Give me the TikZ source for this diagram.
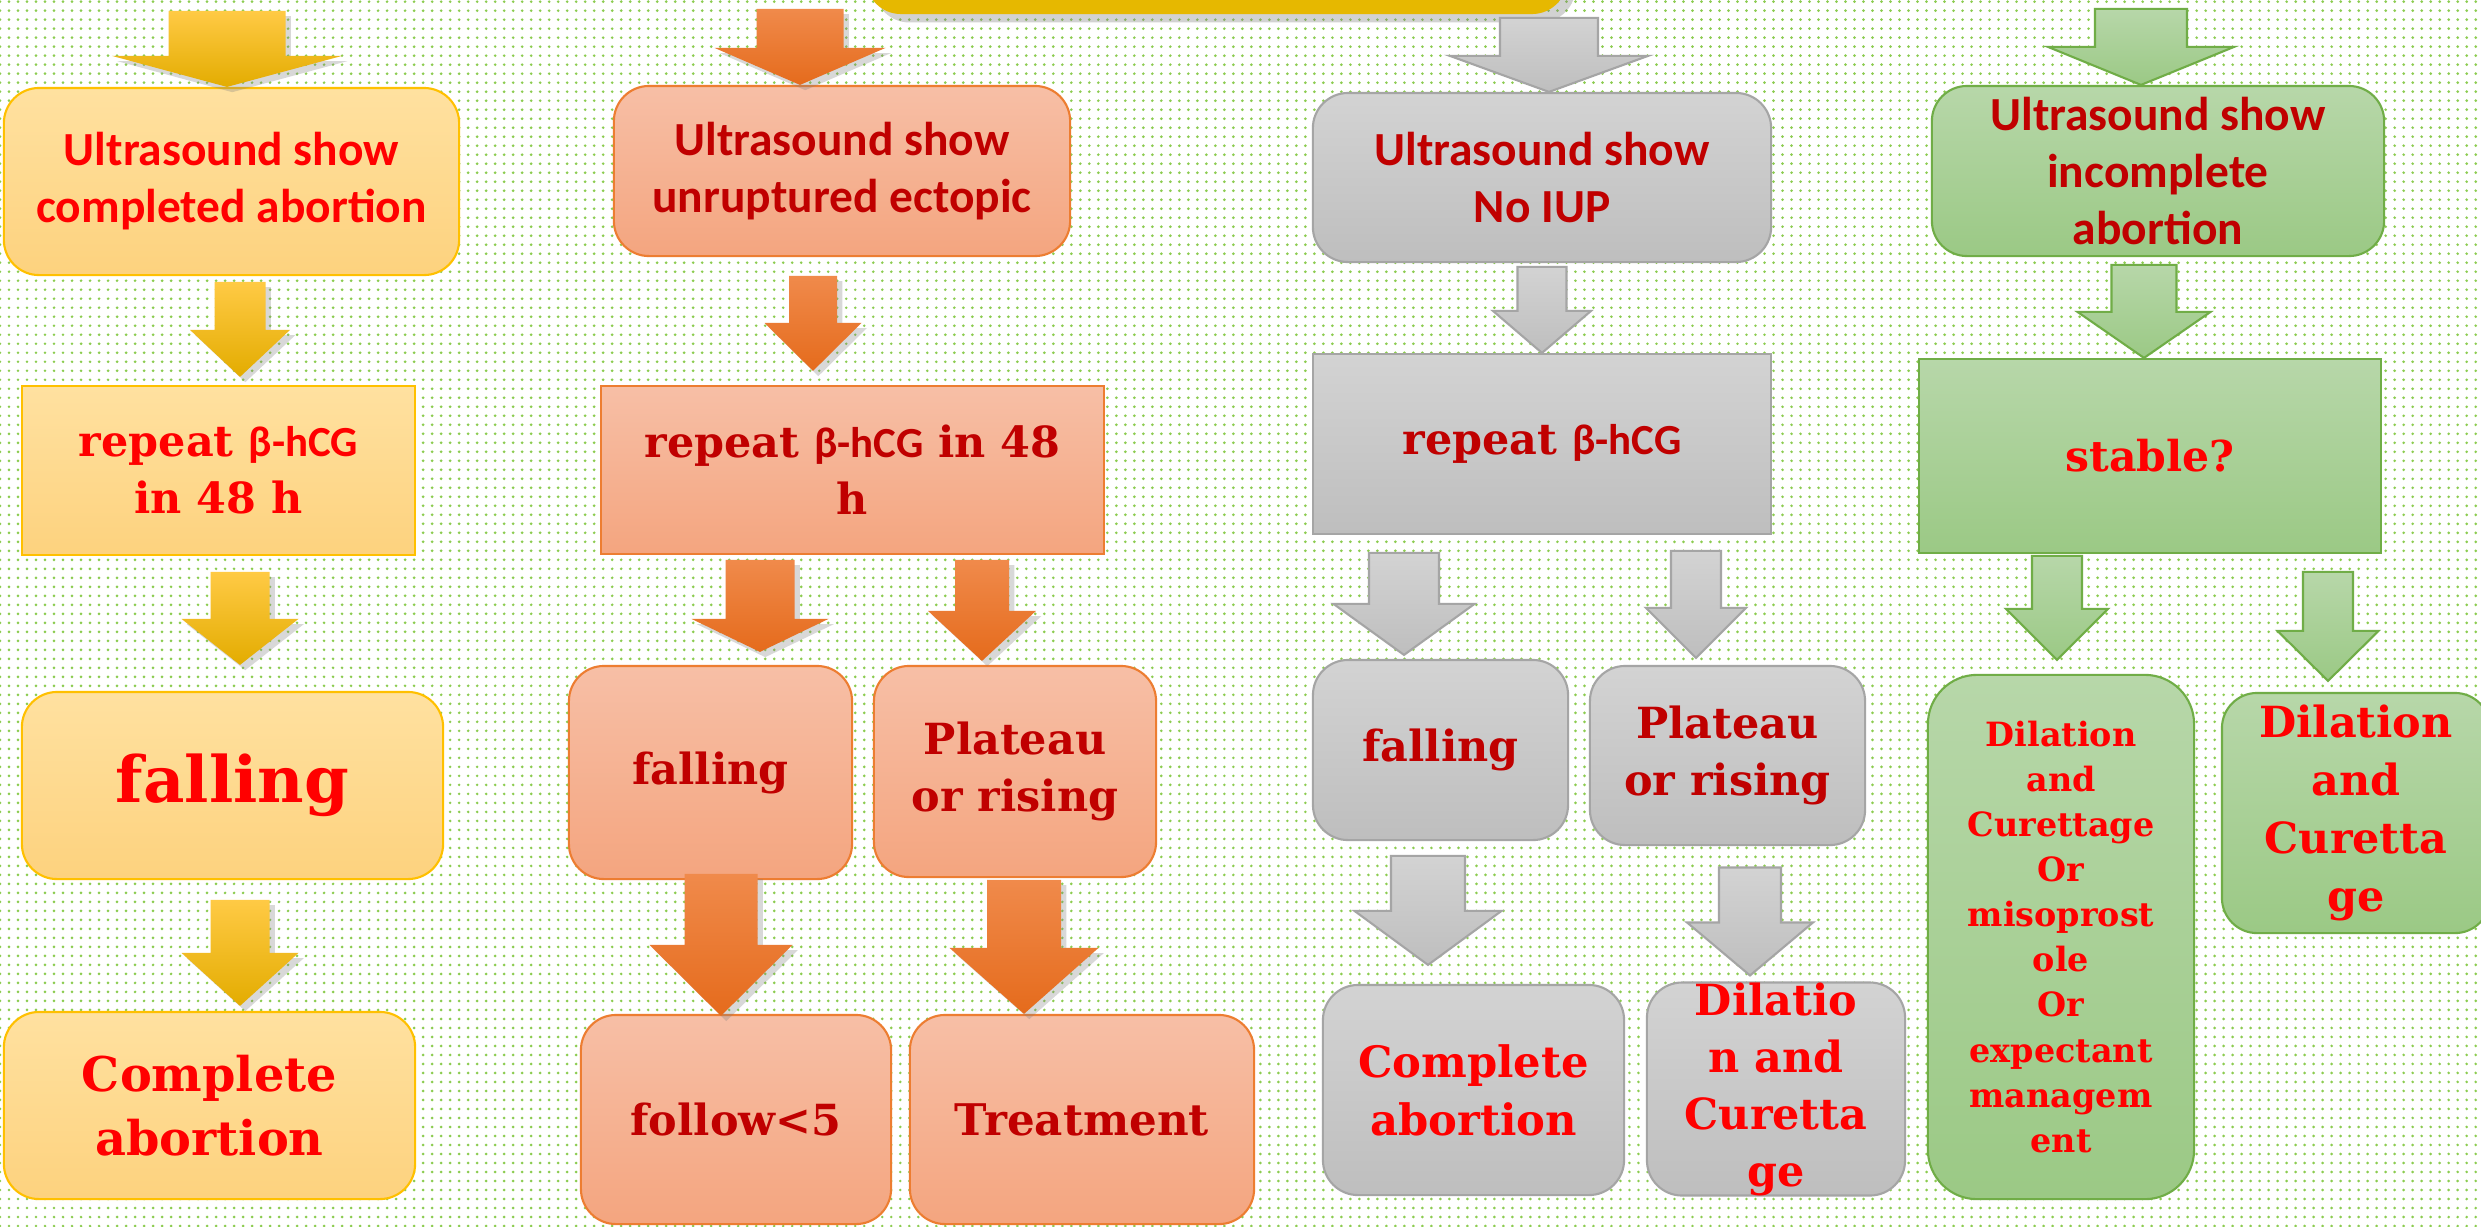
\documentclass[tikz,border=0pt]{standalone}
\usepackage{fontspec}
\setmainfont{Carlito}
\newfontfamily\slab{DejaVu Serif}
\usetikzlibrary{calc,shadows,patterns.meta}

\definecolor{dotgreen}{RGB}{140,204,80}
\definecolor{topgold}{HTML}{E6B800}
\definecolor{goldedge}{HTML}{FFC000}
\definecolor{goldtop}{HTML}{FFE1A0}
\definecolor{goldbot}{HTML}{FDD27E}
\definecolor{goldarrtop}{HTML}{FFCA45}
\definecolor{goldarrmid}{HTML}{FFC000}
\definecolor{goldarrbot}{HTML}{E3AC00}
\definecolor{orgedge}{HTML}{ED7D31}
\definecolor{orgtop}{HTML}{F7BFA6}
\definecolor{orgbot}{HTML}{F4A57F}
\definecolor{orgarrtop}{HTML}{F08A4B}
\definecolor{orgarrbot}{HTML}{E56B1C}
\definecolor{grayedge}{HTML}{A5A5A5}
\definecolor{graytop}{HTML}{D3D3D3}
\definecolor{graybot}{HTML}{BEBEBE}
\definecolor{grnedge}{HTML}{70AD47}
\definecolor{grntop}{HTML}{B7D7A9}
\definecolor{grnbot}{HTML}{9BC985}
\definecolor{hotred}{HTML}{FF0000}
\definecolor{deepred}{HTML}{C00000}

\newcommand\usfont[2]{\rmfamily\bfseries\fontsize{#1}{#2}\selectfont}
\newcommand\slabfont[2]{\slab\bfseries\fontsize{#1}{#2}\selectfont}
\newcommand\hcg{{\rmfamily β-hCG}}
% block arrow: style, tip, length, shaft half width, head half width, head length
\newcommand\fatarrow[6]{%
  \coordinate (arrtip) at #2;
  \path[#1] ($(arrtip)+(-#4,-#3)$) -- ($(arrtip)+(#4,-#3)$) -- ($(arrtip)+(#4,-#6)$)
    -- ($(arrtip)+(#5,-#6)$) -- (arrtip) -- ($(arrtip)+(-#5,-#6)$) -- ($(arrtip)+(-#4,-#6)$) -- cycle;}

\begin{document}
\begin{tikzpicture}[x=0.01cm,y=-0.01cm,
    box/.style={draw,line width=0.6pt,inner sep=0pt,align=center},
    rbox/.style={box,rounded corners=10pt},
    cmp/.style={draw=goldedge,top color=goldtop,bottom color=goldbot,text=hotred},
    ect/.style={draw=orgedge,top color=orgtop,bottom color=orgbot,text=deepred},
    nip/.style={draw=grayedge,top color=graytop,bottom color=graybot,text=deepred},
    inc/.style={draw=grnedge,top color=grntop,bottom color=grnbot,text=deepred},
    goldarr/.style={top color=goldarrtop,middle color=goldarrmid,bottom color=goldarrbot,
      drop shadow={opacity=.3,shadow xshift=1.5pt,shadow yshift=-1.5pt}},
    orgarr/.style={top color=orgarrtop,bottom color=orgarrbot,
      drop shadow={opacity=.3,shadow xshift=1.5pt,shadow yshift=-1.5pt}},
    grayarr/.style={draw=grayedge,line width=0.6pt,top color=graytop,bottom color=graybot},
    grnarr/.style={draw=grnedge,line width=0.6pt,top color=grntop,bottom color=grnbot}]
  \useasboundingbox (0,0) rectangle (2481,1226);
  \fill[white] (0,0) rectangle (2481,1226);
  \fill[pattern={Dots[distance=2.56pt,radius=0.42pt]},pattern color=dotgreen] (0,0) rectangle (2481,1226);
  \node[rbox,draw=none,fill=topgold,drop shadow={opacity=.35},minimum width=7.01cm,minimum height=1.2cm] (top) at (1216.5,-46) {};

  \node[rbox,cmp,minimum width=4.55cm,minimum height=1.87cm,font=\usfont{13.5}{16.2}] (c1) at (231.5,181.5) {Ultrasound show\\completed abortion};
  \node[box,cmp,minimum width=3.93cm,minimum height=1.69cm,font=\slabfont{12.2}{16.2}] (c2) at (218.5,470.5) {repeat \hcg\\in 48 h};
  \node[rbox,cmp,minimum width=4.21cm,minimum height=1.87cm,font=\slabfont{18.2}{22}] (c3) at (232.5,785.5) {falling};
  \node[rbox,cmp,minimum width=4.11cm,minimum height=1.87cm,font=\slabfont{13.6}{18.2}] (c4) at (209.5,1105.5) {Complete\\abortion};

  \node[rbox,ect,minimum width=4.56cm,minimum height=1.70cm,font=\usfont{13.5}{16.2}] (e1) at (842,171) {Ultrasound show\\unruptured ectopic};
  \node[box,ect,minimum width=5.03cm,minimum height=1.68cm,font=\slabfont{12.2}{16.2}] (e2) at (852.5,470) {repeat \hcg{} in 48\\h};
  \node[rbox,ect,minimum width=2.83cm,minimum height=2.13cm,font=\slabfont{12.2}{16.2}] (e3) at (710.5,772.5) {falling};
  \node[rbox,ect,minimum width=2.82cm,minimum height=2.11cm,font=\slabfont{12.2}{16.2}] (e4) at (1015,771.5) {Plateau\\or rising};
  \node[rbox,ect,minimum width=3.10cm,minimum height=2.09cm,font=\slabfont{12.2}{16.2}] (e5) at (736,1119.5) {follow<5};
  \node[rbox,ect,minimum width=3.44cm,minimum height=2.09cm,font=\slabfont{12.4}{16.2}] (e6) at (1082,1119.5) {Treatment};

  \node[rbox,nip,minimum width=4.58cm,minimum height=1.69cm,font=\usfont{13.5}{16.2}] (n1) at (1542,177.5) {Ultrasound show\\No IUP};
  \node[box,nip,minimum width=4.58cm,minimum height=1.80cm,font=\slabfont{12.2}{16.2}] (n2) at (1542,444) {repeat \hcg};
  \node[rbox,nip,minimum width=2.55cm,minimum height=1.80cm,font=\slabfont{12.2}{16.2}] (n3) at (1440.5,750) {falling};
  \node[rbox,nip,minimum width=2.75cm,minimum height=1.79cm,font=\slabfont{12.2}{16.2}] (n4) at (1727.5,755.5) {Plateau\\or rising};
  \node[rbox,nip,text=hotred,minimum width=3.01cm,minimum height=2.10cm,font=\slabfont{12.3}{16.5}] (n5) at (1473.5,1090) {Complete\\abortion};
  \node[rbox,nip,text=hotred,minimum width=2.58cm,minimum height=2.12cm,font=\slabfont{12.2}{16.2}] (n6) at (1776,1089) {Dilatio\\n and\\Curetta\\ge};

  \node[rbox,inc,minimum width=4.52cm,minimum height=1.70cm,font=\usfont{13.5}{16.2}] (i1) at (2158,171) {Ultrasound show\\incomplete\\abortion};
  \node[box,inc,text=hotred,minimum width=4.62cm,minimum height=1.94cm,font=\slabfont{12.1}{16.2}] (i2) at (2150,456) {stable?};
  \node[rbox,inc,rounded corners=14pt,text=hotred,minimum width=2.66cm,minimum height=5.24cm,font=\slabfont{9.5}{12.8}] (i3) at (2061,937)
    {Dilation\\and\\Curettage\\Or\\misoprost\\ole\\Or\\expectant\\managem\\ent};
  \node[rbox,inc,text=hotred,minimum width=2.68cm,minimum height=2.40cm,font=\slabfont{12.2}{16.5}] (i4) at (2356,813) {Dilation\\and\\Curetta\\ge};

  \fatarrow{goldarr}{($(c1.north)+(-4.5,0)$)}{76}{58.5}{115}{31}
  \fatarrow{goldarr}{($(c2.north)+(21.5,-8)$)}{95}{25.5}{50}{47}
  \fatarrow{goldarr}{($(c3.north)+(7.5,-26)$)}{93}{29.5}{58.5}{46}
  \fatarrow{goldarr}{($(c4.north)+(30.5,-5)$)}{106}{29.5}{58.5}{53}

  \fatarrow{orgarr}{($(e1.north)+(-42,0)$)}{76}{43.5}{85.5}{37}
  \fatarrow{orgarr}{($(e2.north)+(-39.5,-14)$)}{95}{24}{48.5}{48}
  \fatarrow{orgarr}{($(e3.north)+(49.5,-13)$)}{92}{34.5}{68.5}{33}
  \fatarrow{orgarr}{($(e4.north)+(-33,-4)$)}{101}{27}{54}{50}
  \fatarrow{orgarr}{($(e5.north)+(-15,2)$)}{142}{36.5}{71.5}{71}
  \fatarrow{orgarr}{($(e6.north)+(-58,0)$)}{134}{37}{74.5}{66}

  \fatarrow{grayarr}{($(n1.north)+(7,0)$)}{74}{49}{99}{36}
  \fatarrow{grayarr}{(n2.north)}{86}{24.5}{49}{42}
  \fatarrow{grayarr}{($(n3.north)+(-36.5,-4)$)}{102}{35}{70.5}{51}
  \fatarrow{grayarr}{($(n4.north)+(-31.5,-7)$)}{107}{25}{50}{50}
  \fatarrow{grayarr}{($(n5.north)+(-45.5,-19)$)}{109}{37}{73.5}{54}
  \fatarrow{grayarr}{($(n6.north)+(-26,-6)$)}{108}{31}{63}{53}

  \fatarrow{grnarr}{($(i1.north)+(-17,0)$)}{76}{46}{93}{38}
  \fatarrow{grnarr}{($(i2.north)+(-6,0)$)}{93}{32.5}{66.5}{46}
  \fatarrow{grnarr}{($(i3.north)+(-4,-14)$)}{104}{25}{51}{51}
  \fatarrow{grnarr}{($(i4.north)+(-28,-11)$)}{109}{25}{50.5}{50}
\end{tikzpicture}
\end{document}
